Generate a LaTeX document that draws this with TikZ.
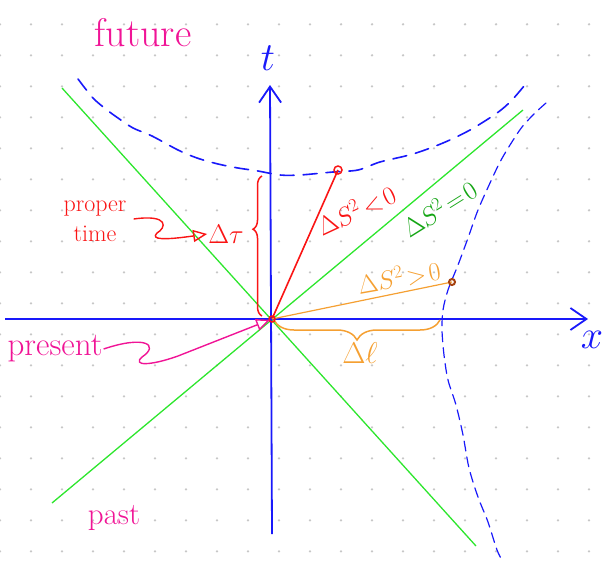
\RequirePackage{fix-cm}
\documentclass[tikz,border=0pt]{standalone}
\usetikzlibrary{arrows.meta,decorations.pathreplacing}
\definecolor{penblue}{RGB}{25,25,250}
\definecolor{pengreen}{RGB}{45,230,45}
\definecolor{labelgreen}{RGB}{20,165,20}
\definecolor{penred}{RGB}{250,20,20}
\definecolor{penpink}{RGB}{240,20,150}
\definecolor{penorange}{RGB}{245,160,50}
\definecolor{penbrown}{RGB}{165,65,15}
\begin{document}
\begin{tikzpicture}[x=1pt,y=-1pt,
  axis/.style={penblue, line width=1.8pt, -{Straight Barb[length=16pt,width=22pt,line width=1.8pt]}},
  lightcone/.style={pengreen, line width=1.3pt},
  hyperbola/.style={penblue, line width=1.6pt, dash pattern=on 14pt off 9pt, line cap=round},
  pointer/.style={line width=1.4pt, -{Triangle[open,length=14pt,width=12pt,line width=1.4pt]}},
  hand/.style={inner sep=1pt},
  interval/.style={inner sep=1pt, font=\fontsize{26}{26}\selectfont},
]
  \useasboundingbox (0,0) rectangle (608,563);
  % dotted paper
  \foreach \i in {0,...,19}
    \foreach \j in {0,...,17}
      \fill[black!22] (31*\i,24.3+31*\j) circle (1.3pt);

  \coordinate (O) at (272,319);
  \coordinate (xstart) at (5,319);
  \coordinate (xend) at (588,319);
  \coordinate (tstart) at (272,534);
  \coordinate (tend) at (270,85);

  % light cone
  \coordinate (c1) at (62,88);
  \coordinate (c2) at (476,546);
  \coordinate (c3) at (523,110);
  \coordinate (c4) at (52,503);
  \draw[lightcone] (c1) -- (c2);
  \draw[lightcone] (c3) -- (c4);

  % axes
  \draw[axis] (xstart) -- (xend);
  \draw[axis] (tstart) -- (tend);
  \node[hand, penblue, font=\fontsize{40}{40}\selectfont] (tlabel) at (268,58) {$t$};
  \node[hand, penblue, font=\fontsize{40}{40}\selectfont] (xlabel) at (592,340) {$x$};

  % hyperbolas
  \draw[hyperbola] plot[smooth] coordinates {(78,79) (93,98) (107,110) (118,118) (133,128) (152,136) (178,150) (197,158) (218,164) (238,168) (258,171) (280,175) (300,175) (333,172) (358,170) (380,162) (413,154) (443,143) (470,130) (497,113) (512,100) (529,80)};
  \draw[hyperbola, line width=1.2pt, dash pattern=on 10pt off 6pt] plot[smooth] coordinates {(546,103) (535,113) (522,127) (510,145) (500,162) (490,183) (478,210) (468,238) (458,265) (448,290) (443,310) (442,330) (444,355) (448,380) (456,405) (463,435) (469,468) (478,497) (488,522) (497,550) (503,562)};

  % timelike
  \coordinate (E) at (338,170);
  \draw[penred, line width=1.6pt] (O) -- (E);
  \draw[penred, line width=1.5pt] (E) circle (4pt);
  \node[interval, penred, rotate=25] (timelike) at (356,210) {$\Delta S^2\!<\!0$};
  \draw[penred, line width=1.5pt, decorate, decoration={brace, amplitude=9pt, aspect=0.62}] (262,316) -- (262,176);
  \node[hand, penred, font=\fontsize{27}{27}\selectfont] (dtau) at (226,234) {$\Delta\tau$};
  \node[hand, penred, align=center, font=\fontsize{24}{30}\selectfont] (proper) at (95,221) {proper\\time};
  \draw[penred, pointer] ([xshift=6pt,yshift=2pt]proper.east) .. controls (170,214) and (166,228) .. (157,233)
    .. controls (150,240) and (165,240) .. (dtau.west);

  % lightlike
  \node[interval, labelgreen, rotate=32] (lightlike) at (439,208) {$\Delta S^2\!=\!0$};

  % spacelike
  \coordinate (F) at (452,282);
  \draw[penorange, line width=1.2pt] (O) -- (F);
  \draw[penbrown, line width=2pt] (F) circle (3pt);
  \node[interval, penorange, rotate=10] (spacelike) at (399,277) {$\Delta S^2\!>\!0$};
  \draw[penorange, line width=1.5pt, decorate, decoration={brace, amplitude=20pt, aspect=0.5}] (440,320) -- (274,320);
  \node[hand, penorange, font=\fontsize{30}{30}\selectfont] (dl) at (360,353) {$\Delta\ell$};

  % event
  \draw[penred, line width=1.5pt] (O) circle (3pt);
  \node[hand, penpink, font=\fontsize{33}{33}\selectfont] (present) at (55,349) {present};
  \draw[penpink, pointer, shorten >=2pt] (present.east) .. controls (145,335) and (160,345) .. (142,357)
    .. controls (132,366) and (150,366) .. (178,356) -- (O);
  \node[hand, penpink, font=\fontsize{40}{40}\selectfont] (future) at (143,33) {future};
  \node[hand, penpink, font=\fontsize{31}{31}\selectfont] (past) at (114,518) {past};
\end{tikzpicture}
\end{document}
